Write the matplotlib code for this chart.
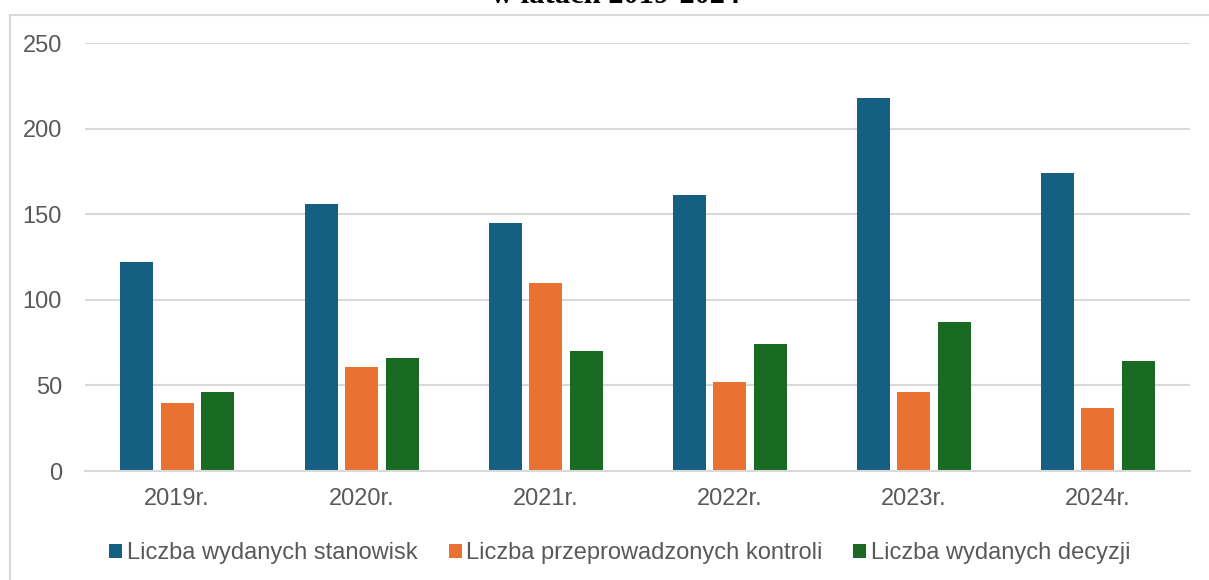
import matplotlib
matplotlib.use("Agg")
import matplotlib.pyplot as plt
import numpy as np
from matplotlib.patches import Rectangle

years = ["2019r.", "2020r.", "2021r.", "2022r.", "2023r.", "2024r."]
stanowiska = [122, 156, 145, 161, 218, 174]
kontrole = [40, 61, 110, 52, 46, 37]
decyzje = [46, 66, 70, 74, 87, 64]
series_names = ["Liczba wydanych stanowisk", "Liczba przeprowadzonych kontroli", "Liczba wydanych decyzji"]
colors = ["#156082", "#E97132", "#196B24"]
yticks = [0, 50, 100, 150, 200, 250]
title = "w latach 2019-2024"

plt.rcParams['font.family'] = ['Liberation Sans', 'DejaVu Sans']
W, H = 1209, 580
fig = plt.figure(figsize=(W / 100, H / 100), dpi=100)

# chart border
fig.patches.append(Rectangle((10 / W, -0.05), 1.1, 1 - 15 / H + 0.05, transform=fig.transFigure,
                             fill=False, edgecolor="#D9D9D9", linewidth=1.5))

ax = fig.add_axes([85 / W, 1 - 471 / H, (1190 - 85) / W, (471 - 43) / H])
x = np.arange(len(years))
bw = 0.179
offs = [-0.218, 0.0, 0.222]
for vals, off, col, name in zip([stanowiska, kontrole, decyzje], offs, colors, series_names):
    ax.bar(x + off, vals, width=bw, color=col, label=name, zorder=3)

ax.set_xlim(-0.5, len(years) - 0.5)
ax.set_ylim(0, 250)
ax.set_yticks(yticks)
ax.set_yticklabels([str(v) for v in yticks])
ax.set_xticks(x)
ax.set_xticklabels(years)
ax.tick_params(axis='both', length=0, labelsize=17, labelcolor="#595959")
ax.tick_params(axis='y', pad=16.5)
ax.tick_params(axis='x', pad=12)
ax.grid(axis='y', color="#D9D9D9", linewidth=1.5, zorder=0)
for s in ["top", "right", "left"]:
    ax.spines[s].set_visible(False)
ax.spines["bottom"].set_color("#D9D9D9")
ax.spines["bottom"].set_linewidth(1.5)
ax.spines["bottom"].set_zorder(4)

fig.text(616 / W, 1 - 3 / H, title, ha="center", va="baseline", fontsize=22,
         fontweight="bold", family=["Liberation Serif", "DejaVu Serif"], color="black")

handles, labels = ax.get_legend_handles_labels()
fig.legend(handles, labels, loc="center", bbox_to_anchor=(620 / W, 1 - 553 / H), ncol=3,
           frameon=False, fontsize=17, labelcolor="#595959", handlelength=0.55,
           handleheight=0.55, handletextpad=0.2, columnspacing=1.3, borderaxespad=0)

fig.savefig("out.png", dpi=100)
